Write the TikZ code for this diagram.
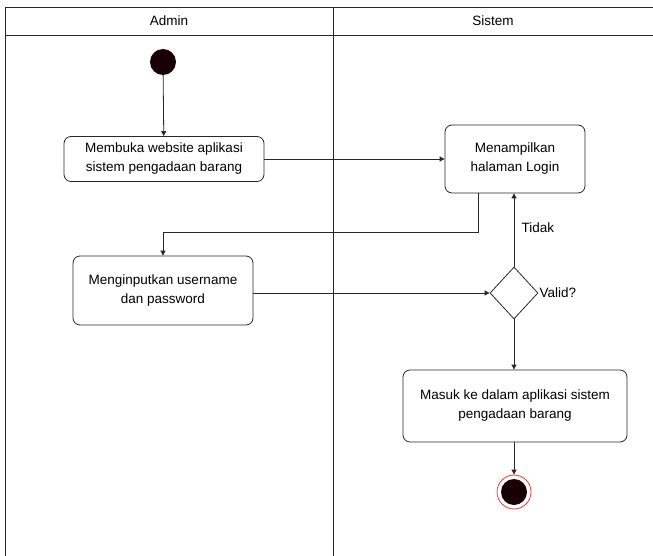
\documentclass[tikz,border=0pt]{standalone}
\usepackage{fontspec}
\setmainfont{Liberation Sans}
\usetikzlibrary{shapes.geometric,arrows.meta}
\definecolor{lineg}{RGB}{40,40,40}
\definecolor{dotc}{RGB}{25,0,5}
\tikzset{
  act/.style={draw=lineg, rounded corners=7pt, fill=white, line width=0.8pt, align=center, font=\fontsize{13.5}{19}\selectfont, inner sep=0pt},
  flow/.style={draw=lineg, line width=0.8pt, -{Triangle[length=5pt,width=5pt]}},
  lane/.style={draw=lineg, line width=0.8pt},
  lbl/.style={font=\fontsize{13.5}{16}\selectfont}
}
\begin{document}
\begin{tikzpicture}[x=1pt,y=-1pt]
\useasboundingbox (0,0) rectangle (653,556);
% swimlanes
\draw[lane] (5,556) -- (5,7) -- (653,7);
\draw[lane] (5,35) -- (653,35);
\draw[lane] (333,7) -- (333,556);
\node[lbl] (hA) at (169,21) {Admin};
\node[lbl] (hS) at (493,21) {Sistem};
% nodes
\node[circle, fill=dotc, minimum size=26pt, inner sep=0pt] (start) at (163,62) {};
\node[act, minimum width=200pt, minimum height=45pt] (b1) at (164,159) {Membuka website aplikasi\\sistem pengadaan barang};
\node[act, minimum width=140pt, minimum height=68pt] (b2) at (515,159) {Menampilkan\\halaman Login};
\node[act, minimum width=180pt, minimum height=69pt] (b3) at (163,290.5) {Menginputkan username\\dan password};
\node[diamond, draw=lineg, line width=0.8pt, fill=white, minimum width=48pt, minimum height=52pt, inner sep=0pt] (d) at (514,293) {};
\node[act, minimum width=224pt, minimum height=72pt] (b4) at (515,406) {Masuk ke dalam aplikasi sistem\\pengadaan barang};
\node[circle, draw=red!80, line width=0.8pt, minimum size=34pt, inner sep=0pt] (endo) at (514,492) {};
\node[circle, fill=dotc, minimum size=26pt, inner sep=0pt] (endi) at (514,492) {};
\coordinate (c1) at (478,232);
\coordinate (c2) at (163,232);
% flows
\draw[flow] (start) -- (b1);
\draw[flow] (b1) -- (b2.west |- b1.east);
\draw[flow] (b2.south -| c1) -- (c1) -- (c2) -- (b3.north -| c2);
\draw[flow] (b3.east |- d.west) -- (d.west);
\draw[flow] (d.north) -- node[lbl, right, pos=0.53, xshift=4pt] {Tidak} (d.north |- b2.south);
\node[lbl, anchor=west, inner sep=1pt] (valid) at (d.east) {Valid?};
\draw[flow] (d.south) -- (b4.north -| d.south);
\draw[flow] (b4.south -| endo) -- (endo.north);
\end{tikzpicture}
\end{document}
